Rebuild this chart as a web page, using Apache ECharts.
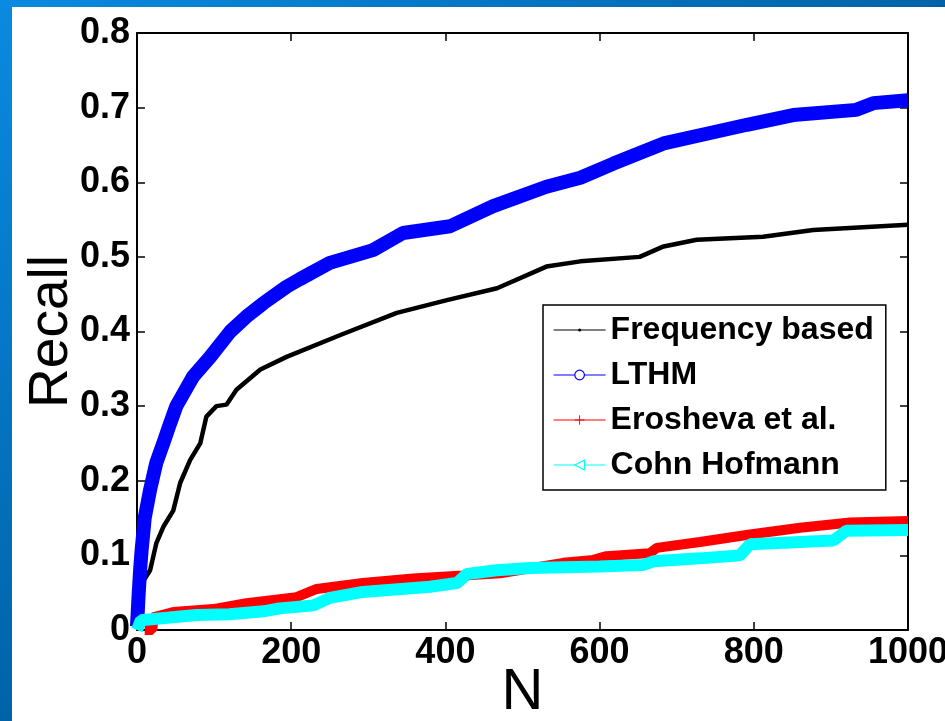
<!DOCTYPE html>
<html>
<head>
<meta charset="utf-8">
<script src="https://cdn.jsdelivr.net/npm/echarts@6/dist/echarts.min.js"></script>
<style>
html,body{margin:0;padding:0;background:#fff;}
#chart{width:945px;height:721px;}
</style>
</head>
<body>
<div id="chart"></div>
<script>
// ---- data ----
var seriesNames = ['Frequency based', 'LTHM', 'Erosheva et al.', 'Cohn Hofmann'];

var freqN      = [0, 6, 9, 17, 25, 34, 47, 56, 69, 82, 90, 103, 116, 129, 160, 194, 263, 337, 402, 467, 531, 575, 652, 683, 726, 812, 877, 1000];
var freqRecall = [0.005, 0.04, 0.067, 0.08, 0.116, 0.138, 0.16, 0.197, 0.228, 0.25, 0.286, 0.30, 0.302, 0.322, 0.349, 0.366, 0.395, 0.425, 0.442, 0.458, 0.487, 0.494, 0.50, 0.514, 0.523, 0.527, 0.536, 0.543];

var lthmN      = [0, 2, 4, 6, 10, 17, 25, 34, 43, 51, 73, 95, 121, 142, 164, 194, 211, 250, 306, 345, 406, 462, 531, 575, 618, 683, 752, 791, 851, 933, 955, 1000];
var lthmRecall = [0.005, 0.045, 0.08, 0.107, 0.15, 0.188, 0.224, 0.25, 0.277, 0.30, 0.34, 0.366, 0.40, 0.42, 0.438, 0.46, 0.47, 0.492, 0.509, 0.532, 0.541, 0.568, 0.594, 0.606, 0.625, 0.652, 0.668, 0.677, 0.69, 0.697, 0.706, 0.71];

var eroN      = [10, 20, 21, 47, 99, 142, 207, 233, 293, 358, 423, 471, 553, 592, 609, 665, 674, 730, 795, 860, 925, 1000];
var eroRecall = [0.0, 0.0, 0.017, 0.024, 0.028, 0.036, 0.044, 0.055, 0.063, 0.069, 0.073, 0.076, 0.09, 0.094, 0.099, 0.103, 0.11, 0.118, 0.128, 0.137, 0.144, 0.146];

var cohnN      = [0, 5, 77, 120, 164, 185, 229, 250, 293, 380, 415, 428, 467, 510, 600, 656, 670, 730, 782, 795, 860, 903, 920, 1000];
var cohnRecall = [0.0, 0.013, 0.02, 0.021, 0.025, 0.029, 0.033, 0.043, 0.051, 0.058, 0.063, 0.075, 0.08, 0.083, 0.085, 0.087, 0.092, 0.096, 0.10, 0.115, 0.118, 0.12, 0.133, 0.134];

var xTicks = [0, 200, 400, 600, 800, 1000];
var yTicks = [0, 0.1, 0.2, 0.3, 0.4, 0.5, 0.6, 0.7, 0.8];

function zip(a, b) { return a.map(function (v, i) { return [v, b[i]]; }); }

var FONT = "'Liberation Sans', Arial, Helvetica, sans-serif";
var chart = echarts.init(document.getElementById('chart'), null, {renderer: 'canvas'});

var axisLineStyle = {color: '#000', width: 2};
function xAxisCfg(pos, labels) {
  return {
    type: 'value', position: pos, min: xTicks[0], max: xTicks[xTicks.length - 1], interval: 200,
    axisLine: {show: true, onZero: false, lineStyle: axisLineStyle},
    axisTick: {show: true, inside: true, length: 8, lineStyle: {color: '#000', width: 1.5}},
    axisLabel: {show: labels, color: '#000', fontFamily: FONT, fontWeight: 'bold', fontSize: 36, margin: 5,
                formatter: function (v) { return String(v); }},
    splitLine: {show: false},
    name: labels ? 'N' : '', nameLocation: 'middle', nameGap: 34, nameMoveOverlap: false,
    nameTextStyle: {color: '#000', fontFamily: FONT, fontSize: 58}
  };
}
function yAxisCfg(pos, labels) {
  return {
    type: 'value', position: pos, min: yTicks[0], max: yTicks[yTicks.length - 1], interval: 0.1,
    axisLine: {show: true, onZero: false, lineStyle: axisLineStyle},
    axisTick: {show: true, inside: true, length: 8, lineStyle: {color: '#000', width: 1.5}},
    axisLabel: {show: labels, color: '#000', fontFamily: FONT, fontWeight: 'bold', fontSize: 36, margin: 7,
                formatter: function (v) { return String(Math.round(v * 10) / 10); }},
    splitLine: {show: false},
    name: labels ? 'Recall' : '', nameLocation: 'middle', nameGap: 58, nameMoveOverlap: false,
    nameTextStyle: {color: '#000', fontFamily: FONT, fontSize: 55}
  };
}

var option = {
  backgroundColor: '#ffffff',
  animation: false,
  graphic: [
    {type: 'rect', left: 0, top: 0, z: 100, shape: {width: 945, height: 7},
     style: {fill: new echarts.graphic.LinearGradient(0, 0, 1, 0, [{offset: 0, color: '#0a8ae0'}, {offset: 1, color: '#0063a8'}])}},
    {type: 'rect', left: 0, top: 0, z: 100, shape: {width: 12, height: 721},
     style: {fill: new echarts.graphic.LinearGradient(0, 0, 0, 1, [{offset: 0, color: '#0a8ae0'}, {offset: 1, color: '#0063a8'}])}}
  ],
  grid: {left: 137, right: 37, top: 33, bottom: 91, containLabel: false, outerBoundsMode: 'none'},
  xAxis: [xAxisCfg('bottom', true), xAxisCfg('top', false)],
  yAxis: [yAxisCfg('left', true), yAxisCfg('right', false)],
  legend: {
    left: 543, top: 305,
    orient: 'vertical',
    backgroundColor: '#fff',
    borderColor: '#000', borderWidth: 1.5, borderRadius: 0,
    padding: [7, 12, 7, 10],
    itemWidth: 52, itemHeight: 12, itemGap: 9,
    textStyle: {color: '#000', fontFamily: FONT, fontWeight: 'bold', fontSize: 32, lineHeight: 36},
    data: [
      {name: seriesNames[0], lineStyle: {color: '#000', width: 1.2}, itemStyle: {color: '#000'}},
      {name: seriesNames[1], lineStyle: {color: '#0000ff', width: 1.2}, itemStyle: {color: '#fff', borderColor: '#0000ff', borderWidth: 1.2}},
      {name: seriesNames[2], lineStyle: {color: '#ff0000', width: 1.2}, itemStyle: {color: '#ff0000'}},
      {name: seriesNames[3], lineStyle: {color: '#00ffff', width: 1.2}, itemStyle: {color: '#fff', borderColor: '#00ffff', borderWidth: 1.2}}
    ]
  },
  series: [
    {name: seriesNames[0], type: 'line', data: zip(freqN, freqRecall), showSymbol: false,
     symbol: 'path://M0,0M16,16M5.5,8a2.5,2.5 0 1,0 5,0a2.5,2.5 0 1,0 -5,0z',
     lineStyle: {color: '#000', width: 4.5}, itemStyle: {color: '#000'}, z: 2},
    {name: seriesNames[1], type: 'line', data: zip(lthmN, lthmRecall), showSymbol: false,
     symbol: 'circle',
     lineStyle: {color: '#0000ff', width: 14}, itemStyle: {color: '#0000ff'}, z: 3},
    {name: seriesNames[2], type: 'line', data: zip(eroN, eroRecall), showSymbol: false,
     symbol: 'path://M4.5,0h1v4.5h4.5v1h-4.5v4.5h-1v-4.5h-4.5v-1h4.5z',
     lineStyle: {color: '#ff0000', width: 10}, itemStyle: {color: '#ff0000'}, z: 4},
    {name: seriesNames[3], type: 'line', data: zip(cohnN, cohnRecall), showSymbol: false,
     symbol: 'path://M0,5L10,0L10,10Z',
     lineStyle: {color: '#00ffff', width: 12}, itemStyle: {color: '#00ffff'}, z: 5}
  ]
};
chart.setOption(option);
</script>
</body>
</html>
